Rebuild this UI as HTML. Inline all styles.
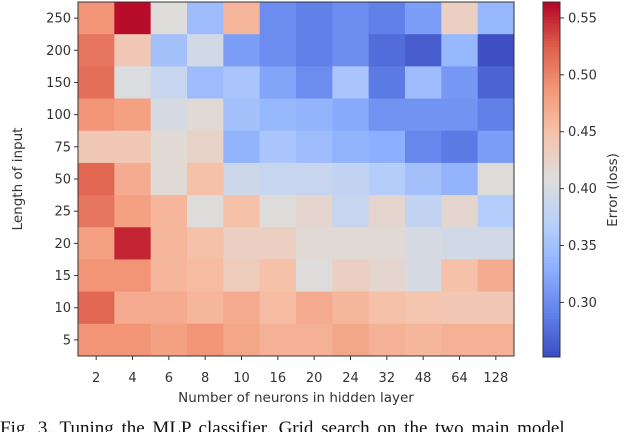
<!DOCTYPE html>
<html><head><meta charset="utf-8"><style>
html,body{margin:0;padding:0;background:#fff;width:640px;height:432px;overflow:hidden}
svg{display:block}
text{font-family:"DejaVu Sans","Liberation Sans",sans-serif;fill:#333}
</style></head><body>
<svg id="chart" width="640" height="432"></svg>
<script>
const xCategories=["2","4","6","8","10","16","20","24","32","48","64","128"];
const yCategories=["250","200","150","100","75","50","25","20","15","10","5"];
const row250=[0.49,0.56,0.41,0.345,0.46,0.30,0.29,0.30,0.29,0.315,0.43,0.34];
const row200=[0.51,0.44,0.35,0.395,0.315,0.30,0.29,0.30,0.275,0.265,0.34,0.255];
const row150=[0.515,0.405,0.385,0.345,0.355,0.32,0.30,0.355,0.285,0.345,0.31,0.27];
const row100=[0.49,0.48,0.40,0.415,0.35,0.34,0.335,0.325,0.305,0.305,0.305,0.29];
const row75=[0.44,0.44,0.415,0.425,0.335,0.355,0.345,0.335,0.33,0.295,0.285,0.315];
const row50=[0.52,0.47,0.415,0.45,0.39,0.385,0.385,0.38,0.365,0.35,0.335,0.41];
const row25=[0.51,0.48,0.46,0.41,0.45,0.41,0.42,0.385,0.42,0.38,0.42,0.365];
const row20=[0.48,0.55,0.46,0.45,0.43,0.43,0.415,0.415,0.415,0.40,0.395,0.395];
const row15=[0.49,0.49,0.46,0.455,0.435,0.45,0.41,0.43,0.42,0.40,0.45,0.47];
const row10=[0.52,0.47,0.47,0.46,0.47,0.455,0.47,0.46,0.45,0.445,0.44,0.44];
const row5=[0.49,0.49,0.48,0.49,0.475,0.465,0.465,0.475,0.465,0.46,0.465,0.465];
const values=[row250,row200,row150,row100,row75,row50,row25,row20,row15,row10,row5];
const colorbarTicks=[0.30,0.35,0.40,0.45,0.50,0.55];
const vmin=0.252, vmax=0.564;

const NS="http://www.w3.org/2000/svg";
const svg=document.getElementById('chart');
function mk(tag,attrs,parent){const e=document.createElementNS(NS,tag);for(const k in attrs)e.setAttribute(k,attrs[k]);(parent||svg).appendChild(e);return e;}
const stops=[[0,59,76,192],[0.125,98,130,234],[0.25,141,176,254],[0.375,184,208,249],[0.5,221,221,221],[0.625,245,196,173],[0.75,244,154,123],[0.875,222,96,77],[1,180,4,38]];
function cmap(v){let t=(v-vmin)/(vmax-vmin);t=Math.max(0,Math.min(1,t));
 for(let i=1;i<stops.length;i++){if(t<=stops[i][0]){const a=stops[i-1],b=stops[i],f=(t-a[0])/(b[0]-a[0]);
 return `rgb(${Math.round(a[1]+f*(b[1]-a[1]))},${Math.round(a[2]+f*(b[2]-a[2]))},${Math.round(a[3]+f*(b[3]-a[3]))})`;}}return 'rgb(180,4,38)';}
const L=78,R=514,T=2,B=356;
const cw=(R-L)/xCategories.length, ch=(B-T)/yCategories.length;
const xPos=i=>L+i*cw, yPos=j=>T+j*ch;
values.forEach((row,j)=>row.forEach((v,i)=>{
 const r=mk('rect',{x:xPos(i),y:yPos(j),width:cw+0.5,height:ch+0.5,fill:cmap(v)});
 
 
}));
const frame=mk('rect',{x:L,y:T,width:R-L,height:B-T,fill:'none',stroke:'#333','stroke-width':1});

xCategories.forEach((c,i)=>{const x=xPos(i)+cw/2;
 mk('line',{x1:x,x2:x,y1:B,y2:B+4,stroke:'#333'});
 const t=mk('text',{x:x,y:382,'text-anchor':'middle','font-size':13});t.textContent=c;
 });
yCategories.forEach((c,j)=>{const y=yPos(j)+ch/2;
 mk('line',{x1:L-4,x2:L,y1:y,y2:y,stroke:'#333'});
 const t=mk('text',{x:L-7,y:y+4.5,'text-anchor':'end','font-size':13});t.textContent=c;
 });
const xt=mk('text',{x:296,y:402,'text-anchor':'middle','font-size':13.5});xt.textContent='Number of neurons in hidden layer';

const yt=mk('text',{x:0,y:0,'text-anchor':'middle','font-size':13.5,transform:'translate(22,179) rotate(-90)'});yt.textContent='Length of input';

const CL=543,CR=560,CT=2,CB=357;
const cy=v=>CB-(v-vmin)/(vmax-vmin)*(CB-CT);
const g=mk('g',{});
for(let k=0;k<120;k++){const v0=vmin+k*(vmax-vmin)/120,v1=vmin+(k+1)*(vmax-vmin)/120;
 mk('rect',{x:CL,y:cy(v1),width:CR-CL,height:cy(v0)-cy(v1)+0.5,fill:cmap((v0+v1)/2)},g);}
mk('rect',{x:CL,y:CT,width:CR-CL,height:CB-CT,fill:'none',stroke:'#333'},g);
colorbarTicks.forEach(v=>{const y=cy(v);
 mk('line',{x1:CR,x2:CR+4,y1:y,y2:y,stroke:'#333'},g);
 const t=mk('text',{x:CR+8,y:y+4.5,'font-size':13},g);t.textContent=v.toFixed(2);
 });
const ct=mk('text',{x:0,y:0,'text-anchor':'middle','font-size':13.5,transform:'translate(617,190) rotate(-90)'});ct.textContent='Error (loss)';

const cap=mk('text',{x:0,y:434,'font-size':19,'word-spacing':'3','xml:space':'preserve',style:'font-family:"Liberation Serif",serif;fill:#111'});
cap.textContent='Fig. 3.    Tuning the MLP classifier. Grid search on the two main model';

</script>
</body></html>
